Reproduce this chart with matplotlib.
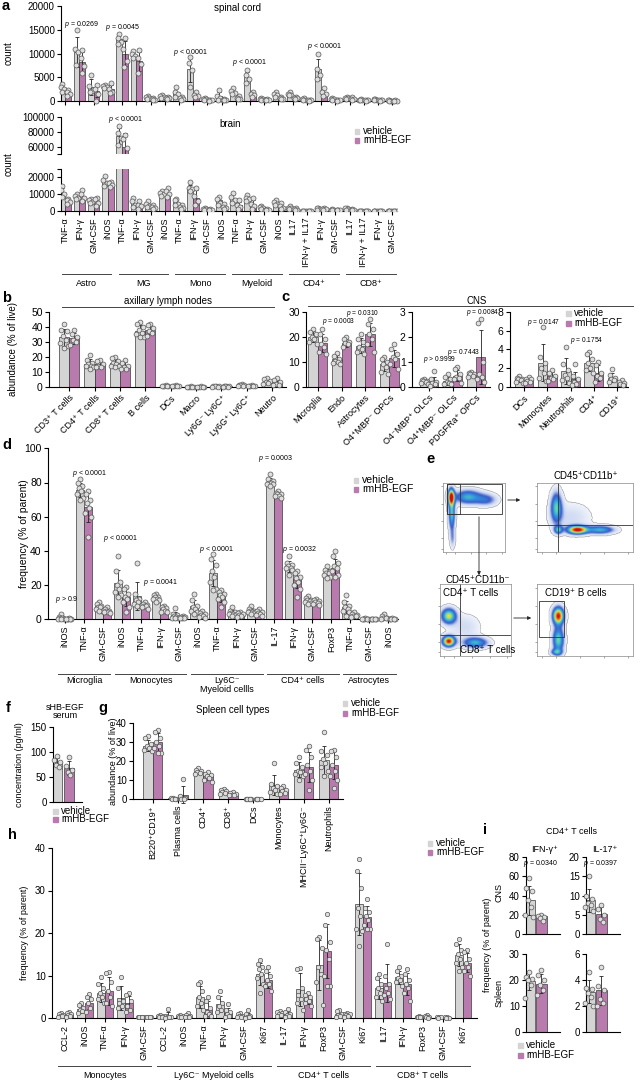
import numpy as np
import matplotlib
matplotlib.use('Agg')
import matplotlib.pyplot as plt
from matplotlib.patches import Rectangle, FancyArrowPatch
from matplotlib.lines import Line2D
from matplotlib.colors import LinearSegmentedColormap
from matplotlib.transforms import blended_transform_factory

plt.rcParams['font.family'] = ['Liberation Sans', 'DejaVu Sans']
plt.rcParams['mathtext.fontset'] = 'custom'
plt.rcParams['mathtext.it'] = 'Liberation Sans:italic'
plt.rcParams['mathtext.rm'] = 'Liberation Sans'
plt.rcParams['axes.linewidth'] = 0.8

GREY = '#d4d4d4'
PURPLE = '#b97aad'
EDGE = '#3a3a3a'
PT_FC = '#dedede'
PT_EC = '#555555'

# ---------------- data ----------------
# a: spinal cord / brain counts
A_CATS = ['TNF-α', 'IFN-γ', 'GM-CSF', 'iNOS'] * 4 + ['IL17', 'IFN-γ + IL17', 'IFN-γ', 'GM-CSF'] * 2
A_GROUPS = ['Astro', 'MG', 'Mono', 'Myeloid', 'CD4⁺', 'CD8⁺']
sc_veh = [2700, 10300, 2900, 3000, 13000, 9700, 700, 900, 1800, 6700, 500, 1000,
          2000, 5000, 500, 1400, 1500, 400, 6700, 500, 700, 300, 400, 150]
sc_rm = [1800, 8200, 2200, 2500, 10000, 8400, 400, 700, 600, 1300, 200, 300,
         700, 1400, 300, 600, 700, 200, 1800, 200, 500, 200, 200, 100]
sc_veh_pts = [[3500, 3000, 2500, 1900], [15000, 11000, 10300, 7500], [5500, 3200, 2200, 1800],
              [3300, 3100, 2900, 2700], [14200, 13300, 12500, 12000], [10500, 10000, 9500, 9000],
              [1000, 800, 600, 400], [1200, 1000, 800, 600], [2900, 2000, 1400, 900],
              [9200, 8000, 6500, 3000], [700, 500, 400, 300], [2300, 1000, 600, 300],
              [2700, 2200, 1700, 1400], [6500, 5500, 4600, 3700], [700, 500, 400, 300],
              [2000, 1500, 1200, 900], [1900, 1500, 1300, 1200], [600, 400, 300, 200],
              [9800, 6800, 5500, 4700], [700, 500, 400, 300], [900, 700, 600, 500],
              [400, 300, 300, 200], [500, 400, 300, 300], [200, 150, 100, 100]]
sc_rm_pts = [[2400, 2000, 1500, 1100], [10700, 9000, 7300, 5800], [3300, 2500, 1500, 0],
             [3700, 2500, 2000, 1600], [13200, 11000, 8500, 7200], [10700, 9000, 7800, 6000],
             [600, 400, 300, 200], [900, 700, 600, 400], [800, 600, 500, 300],
             [1900, 1300, 1000, 800], [300, 200, 150, 100], [500, 300, 200, 150],
             [1000, 700, 500, 400], [1900, 1500, 1200, 900], [400, 300, 250, 200],
             [800, 600, 500, 400], [900, 700, 600, 500], [300, 200, 150, 100],
             [2700, 2000, 1500, 1100], [300, 200, 150, 100], [800, 500, 400, 300],
             [300, 200, 150, 100], [300, 200, 150, 100], [200, 100, 100, 50]]
br_veh = [11000, 8500, 6000, 17500, 74000, 5000, 4000, 10500, 5500, 13500, 1500, 6500,
          7500, 7500, 2200, 5000, 2000, 200, 1500, 800, 1500, 200, 200, 200]
br_rm = [6000, 9000, 6000, 16000, 59000, 3500, 2500, 11000, 2500, 8000, 1000, 2500,
         3500, 4000, 1000, 3000, 1200, 100, 1500, 700, 800, 100, 100, 100]
br_veh_pts = [[15000, 12500, 10000, 8500], [10000, 9000, 8000, 7000], [7000, 6500, 5500, 5000],
              [20500, 18500, 16500, 15000], [88000, 78000, 72000, 62000], [8000, 6000, 4000, 2500],
              [6000, 4500, 3000, 2500], [12000, 11000, 10000, 9000], [7000, 6500, 4500, 3500],
              [17000, 14000, 13000, 12000], [2000, 1500, 1200, 1000], [8500, 7500, 5000, 4000],
              [10500, 8500, 6500, 5000], [9500, 8000, 7000, 6000], [3200, 2500, 1800, 1300],
              [6500, 5500, 4500, 3500], [3000, 2200, 1800, 1200], [300, 200, 150, 100],
              [2200, 1800, 1200, 900], [1200, 900, 600, 500], [2000, 1700, 1300, 1000],
              [300, 200, 150, 100], [300, 200, 150, 100], [300, 200, 150, 100]]
br_rm_pts = [[7500, 6500, 5500, 4500], [12500, 10000, 8000, 6000], [8000, 7000, 5000, 3000],
             [17500, 16500, 15500, 14500], [75000, 70000, 58000, 33000], [6000, 4000, 3000, 1500],
             [3500, 2500, 2000, 1500], [13500, 12000, 10000, 8500], [3500, 2500, 2000, 1500],
             [13500, 9000, 6000, 3500], [1500, 1000, 800, 600], [4500, 2500, 1800, 1200],
             [6500, 4000, 2500, 1500], [8000, 4500, 3000, 1500], [1500, 1000, 800, 600],
             [5000, 3000, 2000, 1500], [1800, 1200, 1000, 700], [200, 100, 100, 50],
             [2000, 1600, 1300, 1000], [900, 700, 600, 500], [1200, 900, 700, 500],
             [200, 100, 100, 50], [200, 100, 100, 50], [200, 100, 100, 50]]

# b: axillary lymph nodes
B_CATS = ['CD3⁺ T cells', 'CD4⁺ T cells', 'CD8⁺ T cells', 'B cells', 'DCs', 'Macro',
          'Ly6G⁻ Ly6C⁺', 'Ly6G⁺ Ly6C⁺', 'Neutro']
b_veh = [33, 15.5, 16, 37.5, 0.8, 0.3, 0.4, 1.2, 3.5]
b_rm = [32.5, 15, 14, 38, 0.8, 0.3, 0.5, 0.8, 3]
b_veh_pts = [[42, 38, 37, 34, 31, 29, 27, 26], [21, 18, 16, 15, 14, 14, 13, 12],
             [20, 19, 17, 16, 15, 14, 13, 14], [43, 42, 40, 38, 36, 35, 33, 33],
             [1.0, 0.9, 0.8, 0.8, 0.7, 0.6], [0.4, 0.3, 0.3, 0.3, 0.2, 0.2],
             [0.6, 0.5, 0.4, 0.4, 0.3, 0.3], [1.8, 1.5, 1.2, 1.0, 0.9, 0.8],
             [6, 5, 4, 3.5, 2.5, 2]]
b_rm_pts = [[38, 35, 33, 31, 30, 28], [18, 17, 15, 14, 13, 13], [18, 16, 14, 13, 12, 12],
            [42, 41, 39, 37, 36, 34], [1.0, 0.9, 0.8, 0.7, 0.6, 0.6], [0.4, 0.3, 0.3, 0.2, 0.2, 0.2],
            [0.8, 0.6, 0.5, 0.4, 0.3, 0.3], [1.1, 0.9, 0.8, 0.7, 0.6, 0.6], [6, 4.5, 3, 2, 1.5, 1]]

# c: CNS
C1_CATS = ['Microglia', 'Endo', 'Astrocytes', 'O4⁺MBP⁻ OPCs']
c1_veh = [20, 11, 16.5, 9]
c1_rm = [17.5, 17.5, 21, 11.5]
c1_veh_pts = [[23, 22, 21, 20, 19, 18, 17], [13.5, 12.5, 11, 10.5, 10, 9.5, 9],
              [21, 19, 18, 16, 15, 14, 13], [12, 11, 10, 9, 8, 6, 5]]
c1_rm_pts = [[23, 21, 19, 17, 16, 14, 13], [20, 19, 18, 17.5, 17, 16],
             [27, 25, 23, 21, 19, 17, 14], [17, 15, 13, 12, 11, 9, 7]]
C2_CATS = ['O4⁻MBP⁺ OLCs', 'O4⁺MBP⁻ OLCs', 'PDGFRa⁺ OPCs']
c2_veh = [0.22, 0.25, 0.5]
c2_rm = [0.2, 0.45, 1.2]
c2_veh_pts = [[0.3, 0.28, 0.25, 0.22, 0.2, 0.15, 0.12], [0.5, 0.4, 0.3, 0.2, 0.15, 0.1, 0.1],
              [0.6, 0.55, 0.5, 0.5, 0.45, 0.4]]
c2_rm_pts = [[0.65, 0.3, 0.2, 0.15, 0.1, 0.05], [0.8, 0.7, 0.5, 0.4, 0.35, 0.3, 0.15],
             [2.7, 2.55, 1.0, 0.5, 0.4, 0.3, 0.2]]
C3_CATS = ['DCs', 'Monocytes', 'Neutrophils', 'CD4⁺', 'CD19⁺']
c3_veh = [0.8, 2.6, 1.7, 2.6, 1.0]
c3_rm = [0.7, 1.2, 0.8, 1.5, 0.4]
c3_veh_pts = [[1.2, 1.0, 0.9, 0.8, 0.7, 0.5, 0.4], [6.4, 3.2, 2.5, 2.0, 1.5, 1.0, 0.6],
              [4.3, 2.4, 1.8, 1.3, 1.0, 0.7, 0.4], [3.7, 3.5, 3.0, 2.5, 2.0, 1.8, 1.5],
              [1.9, 1.3, 1.0, 0.9, 0.7, 0.5]]
c3_rm_pts = [[1.1, 0.9, 0.8, 0.6, 0.5, 0.4], [1.8, 1.5, 1.2, 1.0, 0.8, 0.6],
             [2.4, 1.2, 0.8, 0.5, 0.3, 0.2], [2.7, 2.3, 1.5, 1.2, 1.0, 0.5],
             [0.7, 0.5, 0.4, 0.3, 0.2]]

# d: frequency of parent, CNS cell types
D_CATS = ['iNOS', 'TNF-α', 'GM-CSF', 'iNOS', 'TNF-α', 'IFN-γ', 'GM-CSF', 'iNOS', 'TNF-α',
          'IFN-γ', 'GM-CSF', 'IL-17', 'IFN-γ', 'GM-CSF', 'FoxP3', 'TNF-α', 'GM-CSF', 'iNOS']
D_GROUPS = ['Microglia', 'Monocytes', 'Ly6C⁻\nMyeloid cellls', 'CD4⁺ cells', 'Astrocytes']
d_veh = [1.0, 75.5, 7.5, 21, 13.5, 13, 2.5, 7.5, 27, 4, 5, 80.5, 31, 11, 27, 7, 0.3, 1.0]
d_rm = [0.3, 65.5, 5, 13, 8, 6, 1.2, 2.5, 13.5, 2.5, 3.5, 73, 23.5, 10, 30, 2.5, 0.2, 0.3]
d_veh_pts = [[3, 1.5, 1, 0.8, 0.5, 0.3, 0.2, 0.2], [82, 80, 78, 77, 75, 73, 71, 70],
             [10, 9, 8, 7, 7, 6, 5, 5], [37, 28, 22, 20, 18, 16, 14, 13],
             [33, 15, 12, 11, 10, 9, 8, 8], [15, 14, 13, 13, 12, 12, 11, 10],
             [6.5, 3, 2.5, 2, 1.5, 1, 1, 0.5], [15, 11, 8, 7, 6, 5, 4, 3],
             [38, 35, 32, 28, 25, 22, 18, 17], [7, 5, 4, 3.5, 3, 3, 2.5, 2],
             [8, 6, 5, 5, 4.5, 4, 3.5, 3], [85, 82, 81, 80, 80, 79, 79, 78],
             [37, 33, 32, 31, 30, 30, 29, 26], [13.5, 12.5, 11, 11, 10.5, 10, 9.5, 9],
             [31, 29, 28, 27, 27, 26, 25, 24], [14, 10, 8, 7, 6, 5, 4, 2],
             [0.5, 0.4, 0.3, 0.3, 0.2, 0.2], [3, 2, 1, 0.7, 0.5, 0.3]]
d_rm_pts = [[0.5, 0.4, 0.3, 0.3, 0.2, 0.2], [75, 73, 70, 68, 65, 62, 60, 48],
            [7, 6, 5, 5, 4.5, 4, 3.5], [19, 18, 15, 13, 12, 10, 7, 4],
            [10, 9, 8.5, 8, 7.5, 7, 6], [8, 7, 6.5, 6, 5, 4.5, 4],
            [1.8, 1.5, 1.2, 1.0, 1.0, 0.8], [5, 3.5, 3, 2.5, 2, 1.5, 1],
            [17, 16, 15, 14, 13, 12, 10, 7], [4, 3.5, 3, 2.5, 2, 1.5],
            [6, 5, 4, 3.5, 3, 2.5, 2], [75, 74, 73, 73, 72, 72, 71],
            [28, 27, 25, 24, 22, 20, 18, 13], [12, 11, 10.5, 10, 9.5, 9, 8.5],
            [40, 37, 33, 31, 30, 28, 26, 25], [4, 3, 2.5, 2, 2, 1.5],
            [0.3, 0.2, 0.2, 0.2, 0.1], [0.5, 0.4, 0.3, 0.2, 0.2]]

# f: serum sHB-EGF
f_veh = 80
f_rm = 68
f_veh_pts = [92, 85, 80, 75, 70]
f_rm_pts = [90, 72, 65, 60, 55]

# g: spleen cell types
G_CATS = ['B220⁺CD19⁺', 'Plasma cells', 'CD4⁺', 'CD8⁺', 'DCs', 'Monocytes',
          'MHCII⁻Ly6C⁺Ly6G⁻', 'Neutrophils']
g_veh = [28, 0.5, 14.5, 4, 0.3, 7.5, 15.5, 20.5]
g_rm = [30, 2.5, 12, 3, 0.3, 5, 17, 18]
g_veh_pts = [[33, 32, 29, 28, 27, 26, 25], [0.8, 0.5, 0.4, 0.3, 0.3], [16.5, 15.5, 15, 14, 13.5, 13],
             [5.5, 5, 4.5, 4, 3.5, 3], [0.4, 0.3, 0.3, 0.2, 0.2], [19, 8, 7, 6, 5, 4, 3],
             [22, 19, 17, 15, 14, 13, 12, 10], [35, 25, 23, 21, 19, 17, 15, 12]]
g_rm_pts = [[36, 35, 32, 30, 28, 27, 24, 24], [10.5, 1.5, 0.5, 0.3, 0.2], [14, 13, 12.5, 12, 11, 10, 9],
            [4, 3.5, 3, 2.5, 2.5, 2], [0.4, 0.3, 0.3, 0.2], [7, 6, 5, 4.5, 3.5, 3],
            [28, 26, 22, 18, 15, 13, 10, 5], [26, 25, 22, 18, 15, 12, 10, 6]]

# h: spleen frequency of parent
H_CATS = ['CCL-2', 'iNOS', 'TNF-α', 'IFN-γ', 'GM-CSF', 'CCL-2', 'iNOS', 'TNF-α', 'IFN-γ', 'GM-CSF',
          'Ki67', 'IL-17', 'IFN-γ', 'FoxP3', 'GM-CSF', 'Ki67', 'IL17', 'IFN-γ', 'FoxP3', 'GM-CSF', 'Ki67']
H_GROUPS = ['Monocytes', 'Ly6C⁻ Myeloid cells', 'CD4⁺ T cells', 'CD8⁺ T cells']
h_veh = [0.7, 2.2, 6.0, 4.7, 0.3, 0.5, 0.5, 5.0, 3.3, 0.6, 10.5, 1.2, 6.8, 12.5, 1.0, 26.8,
         7.0, 9.6, 0.3, 0.2, 14.8]
h_rm = [0.9, 3.7, 6.4, 3.5, 0.3, 0.6, 0.6, 2.2, 1.3, 0.6, 9.0, 1.0, 4.5, 15.8, 0.8, 23.8,
        8.3, 8.0, 0.3, 0.2, 13.0]
h_veh_pts = [[1.2, 1.0, 0.8, 0.6, 0.5, 0.4], [3.6, 3.2, 2.5, 2.0, 1.6, 1.2],
             [9.8, 8.0, 7.0, 6.0, 5.0, 4.5, 3.5], [9.8, 7.0, 4.0, 3.5, 3.0, 2.5],
             [0.4, 0.3, 0.3, 0.2, 0.2], [0.8, 0.6, 0.5, 0.4, 0.3], [0.8, 0.6, 0.5, 0.4, 0.3],
             [8.6, 8.0, 6.5, 5.0, 3.5, 2.8, 2.0], [6.5, 5.0, 3.5, 2.8, 2.0, 1.5],
             [1.2, 0.9, 0.6, 0.5, 0.4, 0.3], [13.8, 12.8, 12, 11.5, 10.5, 9.5, 8, 6],
             [1.8, 1.5, 1.3, 1.0, 0.8, 0.6], [11.8, 11.5, 7.0, 5.5, 4.5, 3.5, 2.0],
             [19, 18.5, 16.5, 12, 10.5, 8.5, 3.2], [2.0, 1.6, 1.0, 0.7, 0.5, 0.4],
             [37.5, 34.5, 30.5, 26, 24, 21, 20.5, 17], [10.5, 9.5, 8, 7, 6, 5, 4],
             [12, 11, 10, 9.5, 9, 8.5, 7.5], [0.5, 0.4, 0.3, 0.2, 0.2], [0.3, 0.2, 0.2, 0.1],
             [18.5, 17.5, 16, 15, 14, 13, 12, 11]]
h_rm_pts = [[1.5, 1.2, 1.0, 0.8, 0.6, 0.4], [5.8, 5.0, 4.5, 3.5, 2.5, 1.5],
            [10.8, 10.6, 8.5, 6.5, 5.0, 3.5, 3.0], [6.0, 5.5, 4.0, 3.0, 2.0, 1.5],
            [0.4, 0.3, 0.3, 0.2, 0.2], [2.2, 0.6, 0.4, 0.3, 0.2, 0.1], [1.2, 0.8, 0.6, 0.4, 0.3, 0.2],
            [5.0, 4.0, 2.5, 1.5, 1.0, 0.5, 0.5], [3.4, 2.0, 1.5, 1.0, 0.5, 0.3],
            [2.0, 1.0, 0.5, 0.3, 0.2, 0.1], [12, 11, 10, 9, 8, 7.5, 6.5],
            [2.3, 1.5, 1.0, 0.8, 0.5, 0.3], [6.0, 5.5, 5.0, 4.5, 4.0, 3.0, 3.5],
            [24.5, 22, 18, 16, 14, 10, 7.5, 7.5], [1.3, 1.1, 0.9, 0.7, 0.5, 0.3],
            [28, 26, 25, 24, 23, 22, 21, 21], [17.5, 10, 8, 7, 6, 5.5, 4.5],
            [11.5, 10.5, 9, 8, 7, 6, 4], [0.8, 0.5, 0.3, 0.2, 0.1], [0.3, 0.2, 0.1, 0.1],
            [16, 15.5, 14, 13, 12, 11, 10]]

# i: CD4+ T cells, CNS and spleen (vehicle mean, rmHB mean, vehicle points, rmHB points)
i_cns_ifn = (35, 18.5, [58, 48, 45, 35, 28, 20, 18], [20, 19, 18, 17, 14])
i_cns_il17 = (8.8, 5.2, [15, 10, 9, 8, 7.5, 7, 6], [7.5, 6.5, 5, 4, 3])
i_spl_ifn = (19.5, 18.5, [23, 21, 20.5, 20, 18, 13], [24, 22, 20, 18, 16, 14])
i_spl_il17 = (3.1, 3.2, [4.6, 3.4, 3.3, 3.0, 2.7, 2.2, 2.0], [5, 3.5, 3.2, 2.5, 2.2, 2.0])

# e: flow cytometry populations (cx, cy, sx, sy, weight) in axis fractions
flow_p1 = [(0.13, 0.80, 0.035, 0.08, 1.0), (0.14, 0.55, 0.035, 0.15, 0.55), (0.40, 0.80, 0.15, 0.07, 0.5),
           (0.70, 0.76, 0.12, 0.06, 0.3), (0.15, 0.20, 0.03, 0.10, 0.2)]
flow_p2 = [(0.20, 0.65, 0.04, 0.15, 0.55), (0.42, 0.32, 0.07, 0.04, 1.0), (0.66, 0.32, 0.10, 0.04, 0.5),
           (0.22, 0.32, 0.03, 0.04, 0.5), (0.35, 0.50, 0.15, 0.15, 0.12)]
flow_p3 = [(0.12, 0.55, 0.07, 0.07, 0.7), (0.12, 0.20, 0.06, 0.05, 1.0), (0.50, 0.18, 0.12, 0.05, 0.5),
           (0.35, 0.40, 0.15, 0.12, 0.12)]
flow_p4 = [(0.22, 0.55, 0.04, 0.08, 1.0), (0.22, 0.22, 0.04, 0.12, 0.6), (0.20, 0.05, 0.04, 0.03, 0.4)]

# ---------------- helpers ----------------
W, H = 642, 1083
fig = plt.figure(figsize=(W / 100, H / 100), dpi=100)


def add_ax(l, t, r, b):
    a = fig.add_axes([l / W, 1 - b / H, (r - l) / W, (b - t) / H])
    a.patch.set_visible(False)
    return a


def ftext(x, y, s, **kw):
    kw.setdefault('ha', 'center')
    kw.setdefault('va', 'center')
    fig.text(x / W, 1 - y / H, s, **kw)


def fline(x0, x1, y, lw=0.7):
    fig.add_artist(Line2D([x0 / W, x1 / W], [1 - y / H] * 2, color='#444444', lw=lw))


def letter(x, y, s):
    ftext(x, y, s, fontsize=10.5, fontweight='bold', ha='left')


def legend(x, y, dy=9, fs=7):
    for k, (lab, col) in enumerate([('vehicle', GREY), ('rmHB-EGF', PURPLE)]):
        yy = y + k * dy
        fig.add_artist(Rectangle(((x - 2.5) / W, 1 - (yy + 2.5) / H), 5 / W, 5 / H,
                                 transform=fig.transFigure, color=col))
        ftext(x + 6, yy, lab, fontsize=fs, ha='left')


JIT = [0.0, -0.28, 0.28, -0.14, 0.14, -0.38, 0.38, 0.0]


def draw_bars(ax, veh, rm, veh_pts, rm_pts, w=0.4, off=0.2, s=11, clip=False, x=None):
    if x is None:
        x = np.arange(len(veh))
    x = np.asarray(x, dtype=float)
    for sign, h, pts, col in [(-1, veh, veh_pts, GREY), (1, rm, rm_pts, PURPLE)]:
        xs = x + sign * off
        ax.bar(xs, h, w, color=col, edgecolor=EDGE, linewidth=0.5, zorder=1)
        sd = [np.std(p, ddof=1) for p in pts]
        ax.errorbar(xs, h, yerr=sd, fmt='none', ecolor='#222222', elinewidth=0.6,
                    capsize=1.2, capthick=0.6, zorder=3, clip_on=clip)
        for xi, p in zip(xs, pts):
            p = sorted(p, reverse=True)
            jx = [xi + JIT[k % len(JIT)] * w for k in range(len(p))]
            ax.scatter(jx, p, s=s, facecolor=PT_FC, edgecolor=PT_EC, linewidths=0.5,
                       zorder=4, clip_on=clip)


def style(ax, xlim, ylim, yticks, ylabels=None, fs=7):
    for sp in ['top', 'right']:
        ax.spines[sp].set_visible(False)
    ax.set_xlim(xlim)
    ax.set_ylim(ylim)
    ax.set_yticks(yticks)
    if ylabels is not None:
        ax.set_yticklabels(ylabels)
    ax.tick_params(length=3, width=0.8, labelsize=fs, pad=1.5)


def xcats(ax, cats, rot=90, fs=6.5):
    ax.set_xticks(np.arange(len(cats)))
    if rot == 45:
        ax.set_xticklabels(cats, rotation=45, ha='right', rotation_mode='anchor', fontsize=fs)
    else:
        ax.set_xticklabels(cats, rotation=90, fontsize=fs)


def groups(ax, spans, names, y_line, y_text, fs=6.5, pad=0.3):
    tr = blended_transform_factory(ax.transData, fig.transFigure)
    for (i0, i1), name in zip(spans, names):
        fig.add_artist(Line2D([i0 - pad, i1 + pad], [1 - y_line / H] * 2, transform=tr,
                              color='#444444', lw=0.7))
        fig.text((i0 + i1) / 2, 1 - y_text / H, name, transform=tr, ha='center', va='top',
                 fontsize=fs, linespacing=1.0)


def ptxt(ax, x, y, s, fs=5):
    ax.text(x, y, '$p$ ' + s, ha='center', va='center', fontsize=fs, clip_on=False)


# ---------------- panel a ----------------
A_XLIM = (-0.3, 23.34)
ax = add_ax(61, 6, 397, 101)
draw_bars(ax, sc_veh, sc_rm, sc_veh_pts, sc_rm_pts, s=13)
style(ax, A_XLIM, (0, 20000), [0, 5000, 10000, 15000, 20000])
ax.set_xticks(np.arange(24))
ax.set_xticklabels([])
for (xx, yy, s) in [(1.18, 16200, '= 0.0269'), (4.06, 15400, '= 0.0045'), (8.85, 10300, '< 0.0001'),
                    (13.0, 8200, '< 0.0001'), (18.27, 11400, '< 0.0001')]:
    ptxt(ax, xx, yy, s)

ax_up = add_ax(61, 116.7, 397, 154.2)
draw_bars(ax_up, br_veh, br_rm, br_veh_pts, br_rm_pts, s=13, clip=True)
style(ax_up, A_XLIM, (50000, 100000), [50000, 60000, 80000, 100000], ['', '60000', '80000', '100000'])
ax_up.spines['bottom'].set_visible(False)
ax_up.set_xticks([])
ptxt(ax_up, 4.24, 96900, '< 0.0001')

ax_lo = add_ax(61, 168.8, 397, 211.3)
draw_bars(ax_lo, br_veh, br_rm, br_veh_pts, br_rm_pts, s=13, clip=True)
style(ax_lo, A_XLIM, (0, 25000), [0, 10000, 20000, 25000], ['0', '10000', '20000', ''])
xcats(ax_lo, A_CATS)
groups(ax_lo, [(4 * k, 4 * k + 3) for k in range(6)], A_GROUPS, 274, 279, pad=0.25)

letter(2, 6, 'a')
ftext(237, 8, 'spinal cord', fontsize=7)
ftext(230, 124, 'brain', fontsize=7)
ftext(9, 53, 'count', fontsize=7, rotation=90)
ftext(9, 164, 'count', fontsize=7, rotation=90)
legend(357, 131, dy=9)

# ---------------- panel b ----------------
ax = add_ax(49, 311.7, 286, 387)
draw_bars(ax, b_veh, b_rm, b_veh_pts, b_rm_pts, s=12)
style(ax, (-0.8, 8.55), (0, 50), [0, 10, 20, 30, 40, 50], fs=7.5)
xcats(ax, B_CATS, rot=45)
letter(2, 298, 'b')
ftext(168, 301, 'axillary lymph nodes', fontsize=7)
fline(62, 274, 307)
ftext(13, 349, 'abundance (% of live)', fontsize=7, rotation=90)

# ---------------- panel c ----------------
for box, xl, yl, yt, cats, v, r, vp, rp, ps in [
        ((306, 311.7, 400, 387), (-0.49, 3.45), (0, 30), [0, 10, 20, 30], C1_CATS, c1_veh, c1_rm,
         c1_veh_pts, c1_rm_pts, [(0.89, 25.9, '= 0.0003'), (1.87, 29.4, '= 0.0310')]),
        ((412, 311.7, 490, 387), (-0.73, 2.6), (0, 3), [0, 1, 2, 3], C2_CATS, c2_veh, c2_rm,
         c2_veh_pts, c2_rm_pts, [(0.47, 1.08, '> 0.9999'), (1.46, 1.39, '= 0.7443'), (2.3, 2.95, '= 0.0084')]),
        ((510, 311.7, 628, 387), (-0.6, 4.47), (0, 8), [0, 2, 4, 6, 8], C3_CATS, c3_veh, c3_rm,
         c3_veh_pts, c3_rm_pts, [(0.83, 6.9, '= 0.0147'), (2.7, 4.9, '= 0.1754')])]:
    ax = add_ax(*box)
    draw_bars(ax, v, r, vp, rp, s=12)
    style(ax, xl, yl, yt, fs=7.5)
    xcats(ax, cats, rot=45)
    for (xx, yy, s) in ps:
        ptxt(ax, xx, yy, s, fs=4.8)
letter(281, 297, 'c')
ftext(477, 301, 'CNS', fontsize=7)
fline(308, 633, 306)
legend(568, 313, dy=10)

# ---------------- panel d ----------------
ax = add_ax(48, 448.3, 398, 619.3)
draw_bars(ax, d_veh, d_rm, d_veh_pts, d_rm_pts, w=0.42, off=0.21, s=13)
style(ax, (-0.9, 17.5), (0, 100), [0, 20, 40, 60, 80, 100], fs=7.5)
xcats(ax, D_CATS)
groups(ax, [(0, 2), (3, 6), (7, 10), (11, 14), (15, 17)], D_GROUPS, 674, 676, pad=0.38)
for (xx, yy, s) in [(0.08, 11.3, '> 0.9'), (1.28, 85.5, '< 0.0001'), (2.92, 47, '< 0.0001'),
                    (5.0, 21.8, '= 0.0041'), (7.97, 41, '< 0.0001'), (11.07, 94.3, '= 0.0003'),
                    (12.3, 41, '= 0.0032')]:
    ptxt(ax, xx, yy, s)
letter(2, 445, 'd')
ftext(24, 534, 'frequency (% of parent)', fontsize=7.5, rotation=90)
legend(356, 480, dy=9.5, fs=7.5)

# ---------------- panel e (flow cytometry) ----------------
cmap = LinearSegmentedColormap.from_list('flow', ['#ffffff', '#c8d4f0', '#3a5cc8', '#2f8fe0',
                                                  '#58d0b8', '#e8e040', '#f08020', '#d01010'])
grid = np.linspace(0, 1, 120)
GX, GY = np.meshgrid(grid, grid)


def flow(box, pops):
    a = add_ax(*box)
    z = np.zeros_like(GX)
    for cx, cy, sx, sy, wt in pops:
        z += wt * np.exp(-((GX - cx) ** 2 / (2 * sx ** 2) + (GY - cy) ** 2 / (2 * sy ** 2)))
    z = np.ma.masked_less(z, 0.04)
    a.imshow(z, origin='lower', extent=[0, 1, 0, 1], cmap=cmap, vmin=0, vmax=1.0,
             aspect='auto', interpolation='bilinear')
    a.set_xlim(0, 1)
    a.set_ylim(0, 1)
    for sp in a.spines.values():
        sp.set_color('#888888')
        sp.set_linewidth(0.5)
    a.set_xticks([0.05, 0.2, 0.45, 0.7, 0.95])
    a.set_yticks([0.05, 0.2, 0.45, 0.7, 0.95])
    a.set_xticklabels([])
    a.set_yticklabels([])
    a.tick_params(length=1.5, width=0.4, color='#666666')
    return a


e1 = flow((443, 483, 505, 552), flow_p1)
e1.add_patch(Rectangle((0.06, 0.55), 0.89, 0.44, fill=False, lw=0.6, ec='#333333'))
e1.add_patch(Rectangle((0.06, 0.55), 0.21, 0.44, fill=False, lw=0.6, ec='#333333'))
e2 = flow((537, 483, 633, 552), flow_p2)
e2.axvline(0.22, color='#333333', lw=0.6)
e2.axhline(0.39, color='#333333', lw=0.6)
e3 = flow((440, 584, 511, 656), flow_p3)
e3.axvline(0.28, color='#333333', lw=0.6)
e3.axhline(0.29, color='#333333', lw=0.6)
e4 = flow((537, 584, 633, 656), flow_p4)
e4.add_patch(Rectangle((0.02, 0.26), 0.26, 0.50, fill=False, lw=0.6, ec='#333333'))

for (x0, y0, x1, y1) in [(505, 500, 523, 500), (479, 514, 479, 578), (511, 618, 534, 618)]:
    fig.add_artist(FancyArrowPatch((x0 / W, 1 - y0 / H), (x1 / W, 1 - y1 / H),
                                   transform=fig.transFigure, arrowstyle='-|>',
                                   mutation_scale=5, lw=0.6, color='#222222'))
letter(426, 459, 'e')
ftext(586, 476, 'CD45⁺CD11b⁺', fontsize=7)
ftext(445, 580, 'CD45⁺CD11b⁻', fontsize=7, ha='left')
ftext(443, 593, 'CD4⁺ T cells', fontsize=7, ha='left')
ftext(460, 650, 'CD8⁺ T cells', fontsize=7, ha='left')
ftext(545, 593, 'CD19⁺ B cells', fontsize=7, ha='left')

# ---------------- panel f ----------------
ax = add_ax(53, 727, 82, 802)
draw_bars(ax, [f_veh], [f_rm], [f_veh_pts], [f_rm_pts], w=0.83, off=0.5, s=12, x=[0.5])
style(ax, (-0.35, 2.1), (0, 150), [0, 50, 100, 150])
ax.set_xticks([])
letter(6, 708, 'f')
ftext(65, 707, 'sHB-EGF', fontsize=6.5)
ftext(65, 716, 'serum', fontsize=6.5)
ftext(20, 765, 'concentration (pg/ml)', fontsize=6.5, rotation=90)
legend(55, 811, dy=8.5)

# ---------------- panel g ----------------
ax = add_ax(133, 722.7, 343, 799.3)
draw_bars(ax, g_veh, g_rm, g_veh_pts, g_rm_pts, w=0.38, off=0.19, s=11)
style(ax, (-0.79, 7.56), (0, 40), [0, 10, 20, 30, 40])
xcats(ax, G_CATS)
letter(98, 708, 'g')
ftext(233, 710, 'Spleen cell types', fontsize=7)
ftext(113, 761, 'abundance (% of live)', fontsize=6.5, rotation=90)
legend(345, 703, dy=10)

# ---------------- panel h ----------------
ax = add_ax(52, 847.9, 477, 1018.3)
draw_bars(ax, h_veh, h_rm, h_veh_pts, h_rm_pts, w=0.4, off=0.2, s=10)
style(ax, (-0.65, 20.72), (0, 40), [0, 10, 20, 30, 40])
xcats(ax, H_CATS)
groups(ax, [(0, 4), (5, 10), (11, 15), (16, 20)], H_GROUPS, 1066, 1071, pad=0.35)
letter(8, 835, 'h')
ftext(25, 933, 'frequency (% of parent)', fontsize=6.5, rotation=90)
legend(430, 843, dy=9)

# ---------------- panel i ----------------
for box, ds, yl, yt, p in [((526, 857.3, 560, 934), i_cns_ifn, (0, 80), [0, 20, 40, 60, 80], (0.97, 74, '= 0.0340')),
                           ((586, 857.3, 620, 934), i_cns_il17, (0, 20), [0, 5, 10, 15, 20], (0.97, 18.5, '= 0.0397')),
                           ((526, 954, 560, 1031.7), i_spl_ifn, (0, 30), [0, 10, 20, 30], None),
                           ((586, 954, 620, 1031.7), i_spl_il17, (0, 6), [0, 2, 4, 6], None)]:
    ax = add_ax(*box)
    draw_bars(ax, [ds[0]], [ds[1]], [ds[2]], [ds[3]], w=0.88, off=0.5, s=12, x=[0.5])
    style(ax, (-0.28, 2.55), yl, yt)
    ax.set_xticks([])
    if p:
        ptxt(ax, p[0], p[1], p[2])
letter(483, 830, 'i')
ftext(572, 832, 'CD4⁺ T cells', fontsize=6.5)
ftext(545, 850, 'IFN-γ⁺', fontsize=6.5)
ftext(605, 850, 'IL-17⁺', fontsize=6.5)
ftext(488, 945, 'frequency (% of parent)', fontsize=6.5, rotation=90)
ftext(499, 893, 'CNS', fontsize=6.5, rotation=90)
ftext(499, 993, 'Spleen', fontsize=6.5, rotation=90)
legend(520, 1045, dy=10)

fig.savefig('out.png', dpi=100, facecolor='white')
